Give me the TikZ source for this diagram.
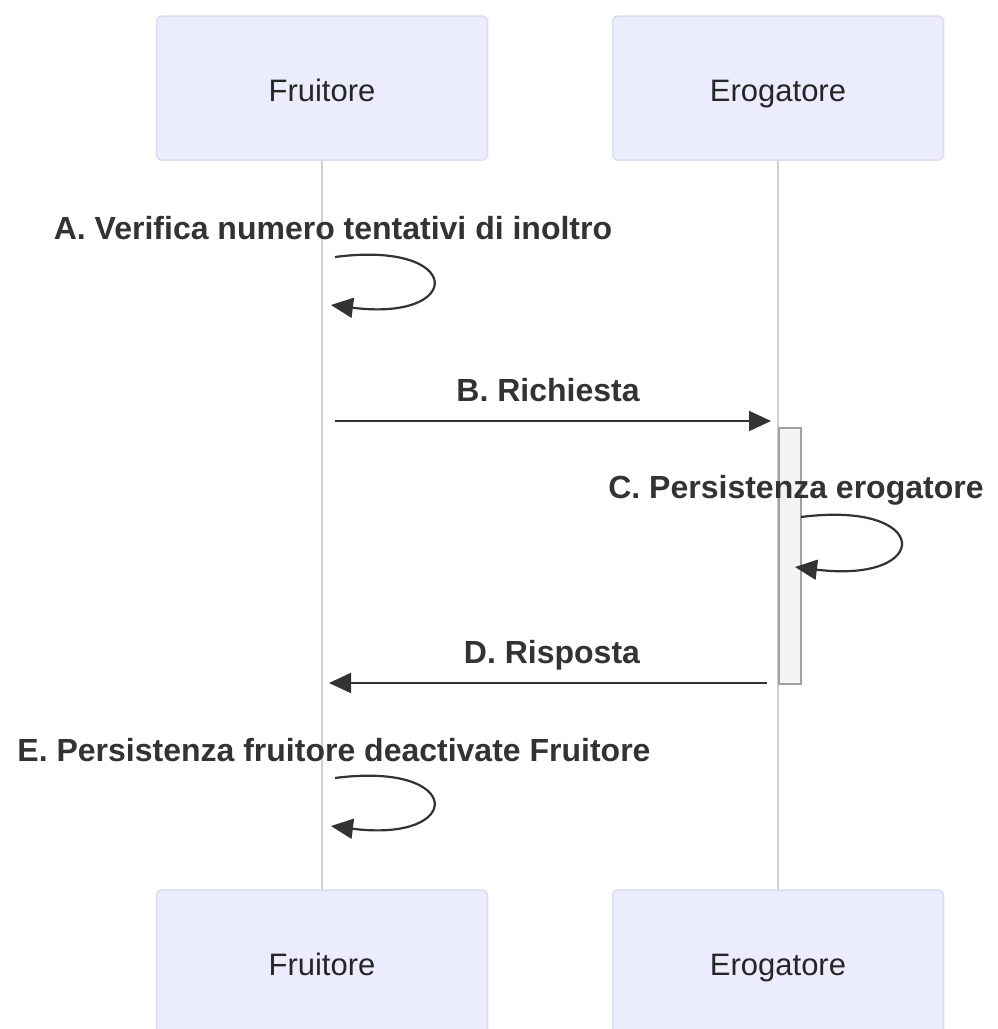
\documentclass[tikz,border=0pt]{standalone}
\usepackage{fontspec}
\setmainfont{Liberation Sans}
\usetikzlibrary{arrows.meta}
\definecolor{actfill}{HTML}{ECECFF}
\definecolor{actdraw}{HTML}{DCDCEE}
\definecolor{lifecol}{HTML}{D0D0D0}
\definecolor{msgcol}{HTML}{333333}
\definecolor{actvfill}{HTML}{F4F4F4}
\definecolor{actvdraw}{HTML}{A0A0A0}
\tikzset{
  actor/.style={draw=actdraw, fill=actfill, line width=1.5pt, rounded corners=5pt, minimum width=331pt, minimum height=144pt, inner sep=0pt, text height=26pt, text depth=0pt, font=\fontsize{31}{36}\selectfont, text=black!85},
  lifeline/.style={draw=lifecol, line width=2pt},
  msg/.style={draw=msgcol, line width=2.2pt, -{Triangle[length=22pt,width=20pt]}},
  msglabel/.style={font=\bfseries\fontsize{32}{38}\selectfont, text=msgcol, inner sep=0pt},
  activation/.style={draw=actvdraw, fill=actvfill, line width=2pt}
}
\begin{document}
\begin{tikzpicture}[x=1pt,y=-1pt]
\useasboundingbox (0,0) rectangle (997,1029);
\clip (0,0) rectangle (997,1029);
% lifelines
\coordinate (fl1) at (322,160);
\coordinate (fl2) at (322,890);
\coordinate (el1) at (778,160);
\coordinate (el2) at (778,890);
\draw[lifeline] (fl1) -- (fl2);
\draw[lifeline] (el1) -- (el2);
% actors
\node[actor] (ft) at (322,88) {Fruitore};
\node[actor] (et) at (778,88) {Erogatore};
\node[actor] (fb) at (322,962) {Fruitore};
\node[actor] (eb) at (778,962) {Erogatore};
% activation
\node[activation, minimum width=22pt, minimum height=256pt, inner sep=0pt, anchor=north west] (act) at (778,427) {};
% A
\node[msglabel] (la) at (333,228) {A. Verifica numero tentativi di inoltro};
\coordinate (a1) at (335,257);
\coordinate (a2) at (331,305);
\draw[msg] (a1) .. controls (465,240) and (465,322) .. (a2);
% B
\node[msglabel] (lb) at (548,390) {B. Richiesta};
\coordinate (b1) at (335,421);
\coordinate (b2) at (771,421);
\draw[msg] (b1) -- (b2);
% C
\node[msglabel] (lc) at (796,490) {C. Persistenza erogatore};
\coordinate (c1) at (801,517);
\coordinate (c2) at (795,567);
\draw[msg] (c1) .. controls (933,500) and (933,584) .. (c2);
% D
\node[msglabel] (ld) at (552,655) {D. Risposta};
\coordinate (d1) at (767,683);
\coordinate (d2) at (329,683);
\draw[msg] (d1) -- (d2);
% E
\node[msglabel] (le) at (334,750) {E. Persistenza fruitore deactivate Fruitore};
\coordinate (e1) at (335,778);
\coordinate (e2) at (331,826);
\draw[msg] (e1) .. controls (465,761) and (465,843) .. (e2);
\end{tikzpicture}
\end{document}
